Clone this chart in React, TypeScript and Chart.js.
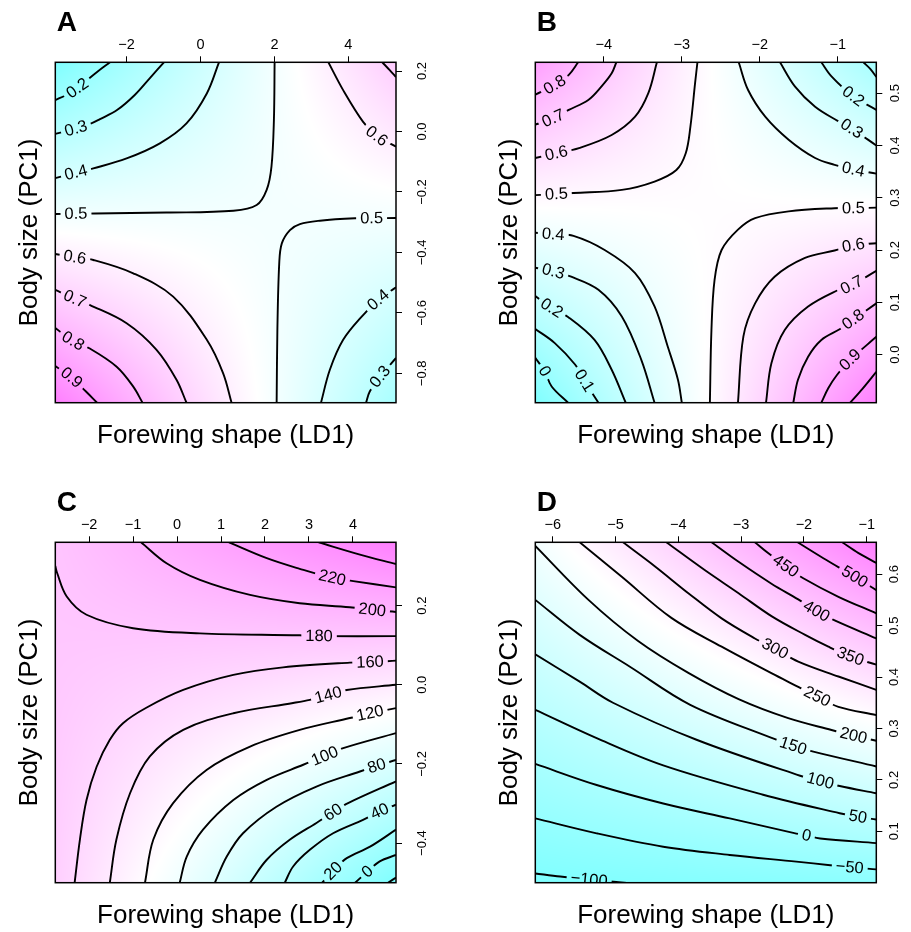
import React, { useEffect, useRef } from 'react';
import { Chart, registerables } from 'chart.js';

Chart.register(...registerables);

const FONT = '"Liberation Sans", Arial, Helvetica, sans-serif';
const TOP_AXIS_H = 40;

type Pt = [number, number];
interface Contour { z: number; lab: number; pts: Pt[]; }

// ---------------- Panel A ----------------
const xTicksA = [-2, 0, 2, 4];
const yTicksA = [-0.8, -0.6, -0.4, -0.2, 0.0, 0.2];
const xLimA: Pt = [-3.93, 5.29];
const yLimA: Pt = [-0.897, 0.229];
// surface values at the corners: rows [top, bottom], cols [left, right]
const zGridA = [[0.10, 0.72], [0.98, 0.24]];
const contoursA: Contour[] = [
  { z: 0.2, lab: 3, pts: [[-2.45, 0.229], [-2.80, 0.197], [-3.05, 0.172], [-3.33, 0.143], [-3.65, 0.120], [-3.93, 0.104]] },
  { z: 0.3, lab: 6, pts: [[-0.99, 0.229], [-1.37, 0.177], [-1.78, 0.121], [-2.26, 0.071], [-2.72, 0.041], [-2.99, 0.025], [-3.37, 0.010], [-3.93, -0.008]] },
  { z: 0.4, lab: 6, pts: [[0.50, 0.229], [0.17, 0.126], [-0.38, 0.027], [-1.10, -0.039], [-2.00, -0.089], [-2.90, -0.122], [-3.37, -0.136], [-3.93, -0.154]] },
  { z: 0.5, lab: 8, pts: [[2.005, 0.229], [1.986, 0.038], [1.92, -0.116], [1.79, -0.193], [1.52, -0.243], [0.89, -0.262], [-0.92, -0.268], [-2.86, -0.271], [-3.37, -0.272], [-3.93, -0.273]] },
  { z: 0.5, lab: 1, pts: [[5.29, -0.286], [4.63, -0.287], [4.18, -0.287], [3.23, -0.295], [2.69, -0.306], [2.42, -0.326], [2.20, -0.370], [2.13, -0.436], [2.08, -0.656], [2.06, -0.897]] },
  { z: 0.6, lab: 3, pts: [[3.46, 0.229], [3.86, 0.137], [4.40, 0.032], [4.77, -0.015], [5.29, -0.050]] },
  { z: 0.7, lab: -1, pts: [[4.92, 0.229], [5.12, 0.203], [5.29, 0.180]] },
  { z: 0.6, lab: 1, pts: [[-3.93, -0.405], [-3.40, -0.416], [-2.90, -0.425], [-1.82, -0.469], [-0.74, -0.546], [0.17, -0.689], [0.61, -0.799], [0.84, -0.897]] },
  { z: 0.7, lab: 1, pts: [[-3.93, -0.524], [-3.40, -0.554], [-2.99, -0.574], [-2.00, -0.634], [-1.19, -0.722], [-0.65, -0.821], [-0.38, -0.897]] },
  { z: 0.8, lab: 1, pts: [[-3.93, -0.650], [-3.45, -0.693], [-3.01, -0.717], [-2.27, -0.778], [-1.82, -0.844], [-1.57, -0.897]] },
  { z: 0.9, lab: 1, pts: [[-3.93, -0.776], [-3.49, -0.814], [-3.10, -0.860], [-2.80, -0.897]] },
  { z: 0.4, lab: 4, pts: [[3.26, -0.897], [3.50, -0.788], [3.86, -0.689], [4.40, -0.607], [4.81, -0.557], [5.29, -0.515]] },
  { z: 0.3, lab: 2, pts: [[4.48, -0.897], [4.58, -0.860], [4.86, -0.811], [5.29, -0.749]] },
];

// ---------------- Panel B ----------------
const xTicksB = [-4, -3, -2, -1];
const yTicksB = [0.0, 0.1, 0.2, 0.3, 0.4, 0.5];
const xLimB: Pt = [-4.88, -0.505];
const yLimB: Pt = [-0.092, 0.559];
const zGridB = [[0.92, 0.06], [-0.12, 1.07]];
const contoursB: Contour[] = [
  { z: 0.8, lab: 1, pts: [[-4.88, 0.497], [-4.63, 0.516], [-4.45, 0.535], [-4.33, 0.559]] },
  { z: 0.7, lab: 1, pts: [[-4.88, 0.440], [-4.65, 0.452], [-4.45, 0.468], [-4.20, 0.487], [-4.03, 0.513], [-3.90, 0.538], [-3.84, 0.559]] },
  { z: 0.6, lab: 1, pts: [[-4.88, 0.376], [-4.61, 0.385], [-4.32, 0.395], [-3.90, 0.420], [-3.60, 0.455], [-3.43, 0.500], [-3.32, 0.559]] },
  { z: 0.5, lab: 1, pts: [[-4.88, 0.305], [-4.61, 0.307], [-4.39, 0.309], [-3.77, 0.315], [-3.35, 0.331], [-3.07, 0.353], [-2.95, 0.385], [-2.89, 0.436], [-2.83, 0.519], [-2.80, 0.559]] },
  { z: 0.4, lab: 6, pts: [[-2.27, 0.559], [-2.15, 0.506], [-1.93, 0.455], [-1.63, 0.411], [-1.29, 0.376], [-1.04, 0.363], [-0.80, 0.354], [-0.505, 0.346]] },
  { z: 0.3, lab: 4, pts: [[-1.74, 0.559], [-1.55, 0.513], [-1.29, 0.474], [-0.99, 0.446], [-0.82, 0.432], [-0.505, 0.400]] },
  { z: 0.2, lab: 2, pts: [[-1.21, 0.559], [-1.08, 0.532], [-0.80, 0.494], [-0.505, 0.468]] },
  { z: 0.1, lab: -1, pts: [[-0.67, 0.559], [-0.58, 0.546], [-0.505, 0.531]] },
  { z: 0.5, lab: 1, pts: [[-0.505, 0.281], [-0.80, 0.280], [-1.04, 0.280], [-1.63, 0.274], [-2.06, 0.261], [-2.28, 0.239], [-2.49, 0.200], [-2.58, 0.143], [-2.62, 0.047], [-2.64, -0.092]] },
  { z: 0.4, lab: 1, pts: [[-4.88, 0.233], [-4.65, 0.230], [-4.39, 0.227], [-3.99, 0.200], [-3.60, 0.156], [-3.35, 0.092], [-3.18, 0.015], [-3.05, -0.048], [-3.00, -0.092]] },
  { z: 0.3, lab: 1, pts: [[-4.88, 0.166], [-4.65, 0.159], [-4.42, 0.149], [-4.07, 0.124], [-3.77, 0.073], [-3.52, -0.010], [-3.35, -0.092]] },
  { z: 0.2, lab: 1, pts: [[-4.88, 0.112], [-4.67, 0.089], [-4.46, 0.072], [-4.12, 0.028], [-3.90, -0.029], [-3.72, -0.092]] },
  { z: 0.1, lab: 3, pts: [[-4.88, 0.049], [-4.63, 0.022], [-4.37, -0.019], [-4.25, -0.050], [-4.07, -0.092]] },
  { z: 0.0, lab: 1, pts: [[-4.88, -0.006], [-4.76, -0.032], [-4.67, -0.061], [-4.46, -0.092]] },
  { z: 0.6, lab: 1, pts: [[-0.505, 0.213], [-0.80, 0.209], [-1.04, 0.199], [-1.42, 0.185], [-1.81, 0.149], [-2.06, 0.098], [-2.21, 0.035], [-2.28, -0.092]] },
  { z: 0.7, lab: 1, pts: [[-0.505, 0.160], [-0.82, 0.133], [-0.99, 0.124], [-1.38, 0.092], [-1.68, 0.047], [-1.85, -0.016], [-1.92, -0.092]] },
  { z: 0.8, lab: 1, pts: [[-0.505, 0.098], [-0.80, 0.067], [-0.97, 0.049], [-1.21, 0.028], [-1.38, -0.004], [-1.51, -0.048], [-1.57, -0.092]] },
  { z: 0.9, lab: 1, pts: [[-0.505, 0.034], [-0.84, -0.010], [-1.01, -0.039], [-1.12, -0.064], [-1.21, -0.092]] },
  { z: 1.0, lab: -1, pts: [[-0.84, -0.092], [-0.68, -0.065], [-0.505, -0.033]] },
];

// ---------------- Panel C ----------------
const xTicksC = [-2, -1, 0, 1, 2, 3, 4];
const yTicksC = [-0.4, -0.2, 0.0, 0.2];
const xLimC: Pt = [-2.77, 4.98];
const yLimC: Pt = [-0.5, 0.36];
const zGridC = [[182, 258], [171, -23]];
const contoursC: Contour[] = [
  { z: 240, lab: -1, pts: [[3.22, 0.360], [4.16, 0.329], [4.98, 0.305]] },
  { z: 220, lab: 3, pts: [[1.18, 0.360], [2.04, 0.320], [2.79, 0.293], [3.53, 0.270], [4.01, 0.262], [4.98, 0.246]] },
  { z: 200, lab: 6, pts: [[-0.82, 0.360], [-0.24, 0.307], [0.52, 0.265], [1.66, 0.227], [2.79, 0.206], [3.93, 0.196], [4.44, 0.189], [4.98, 0.184]] },
  { z: 180, lab: 7, pts: [[-2.77, 0.300], [-2.73, 0.283], [-2.51, 0.223], [-2.06, 0.177], [-1.00, 0.143], [0.52, 0.130], [2.79, 0.125], [3.23, 0.123], [4.98, 0.123]] },
  { z: 160, lab: 1, pts: [[4.98, 0.061], [4.39, 0.057], [3.93, 0.056], [2.41, 0.044], [1.28, 0.025], [0.14, -0.013], [-0.70, -0.058], [-1.23, -0.097], [-1.53, -0.139], [-1.83, -0.207], [-2.06, -0.291], [-2.21, -0.391], [-2.33, -0.5]] },
  { z: 140, lab: 2, pts: [[4.98, 0.000], [3.86, -0.013], [3.44, -0.026], [3.02, -0.038], [2.64, -0.046], [1.28, -0.072], [0.14, -0.114], [-0.62, -0.181], [-1.07, -0.274], [-1.38, -0.391], [-1.53, -0.5]] },
  { z: 120, lab: 1, pts: [[4.98, -0.059], [4.39, -0.072], [3.93, -0.084], [2.79, -0.114], [1.66, -0.156], [0.67, -0.215], [-0.09, -0.299], [-0.54, -0.391], [-0.73, -0.5]] },
  { z: 100, lab: 2, pts: [[4.98, -0.122], [3.78, -0.160], [3.36, -0.180], [2.87, -0.202], [2.04, -0.240], [1.28, -0.291], [0.59, -0.366], [0.22, -0.434], [0.06, -0.5]] },
  { z: 80, lab: 1, pts: [[4.98, -0.190], [4.54, -0.205], [4.16, -0.219], [3.17, -0.257], [2.26, -0.308], [1.50, -0.375], [1.13, -0.434], [0.86, -0.5]] },
  { z: 60, lab: 2, pts: [[4.98, -0.244], [3.89, -0.299], [3.55, -0.322], [3.17, -0.349], [2.57, -0.391], [2.04, -0.442], [1.66, -0.5]] },
  { z: 40, lab: 1, pts: [[4.98, -0.303], [4.61, -0.320], [4.23, -0.341], [3.55, -0.375], [3.02, -0.417], [2.64, -0.459], [2.45, -0.5]] },
  { z: 20, lab: 1, pts: [[3.30, -0.5], [3.55, -0.470], [3.86, -0.438], [4.39, -0.409], [4.98, -0.366]] },
  { z: 0, lab: 1, pts: [[4.05, -0.5], [4.33, -0.472], [4.61, -0.446], [4.98, -0.430]] },
  { z: -20, lab: -1, pts: [[4.80, -0.5], [4.98, -0.487]] },
];

// ---------------- Panel D ----------------
const xTicksD = [-6, -5, -4, -3, -2, -1];
const yTicksD = [0.1, 0.2, 0.3, 0.4, 0.5, 0.6];
const xLimD: Pt = [-6.277, -0.847];
const yLimD: Pt = [0.0, 0.662];
const zGridD = [[205, 587], [-113, -77]];
const contoursD: Contour[] = [
  { z: 550, lab: -1, pts: [[-1.39, 0.662], [-1.13, 0.641], [-0.847, 0.622]] },
  { z: 500, lab: 2, pts: [[-2.10, 0.662], [-1.69, 0.631], [-1.19, 0.595], [-0.847, 0.569]] },
  { z: 450, lab: 2, pts: [[-2.78, 0.662], [-2.57, 0.641], [-2.29, 0.616], [-2.01, 0.592], [-1.45, 0.556], [-0.847, 0.524]] },
  { z: 400, lab: 4, pts: [[-3.47, 0.662], [-3.04, 0.624], [-2.51, 0.581], [-2.09, 0.551], [-1.80, 0.528], [-1.51, 0.510], [-0.847, 0.475]] },
  { z: 350, lab: 6, pts: [[-4.19, 0.662], [-3.58, 0.608], [-3.04, 0.563], [-2.51, 0.518], [-1.98, 0.482], [-1.61, 0.459], [-1.26, 0.440], [-0.847, 0.424]] },
  { z: 300, lab: 5, pts: [[-4.88, 0.662], [-4.37, 0.615], [-3.84, 0.563], [-3.31, 0.514], [-2.78, 0.475], [-2.46, 0.455], [-2.09, 0.430], [-1.45, 0.401], [-0.847, 0.375]] },
  { z: 250, lab: 6, pts: [[-5.57, 0.662], [-4.90, 0.595], [-4.11, 0.515], [-3.31, 0.459], [-2.51, 0.407], [-2.09, 0.381], [-1.79, 0.362], [-1.45, 0.342], [-0.847, 0.326]] },
  { z: 200, lab: 7, pts: [[-6.277, 0.655], [-5.43, 0.550], [-4.64, 0.470], [-3.84, 0.408], [-3.04, 0.357], [-2.25, 0.320], [-1.56, 0.297], [-1.21, 0.286], [-0.847, 0.276]] },
  { z: 150, lab: 5, pts: [[-6.277, 0.550], [-5.57, 0.482], [-4.77, 0.420], [-3.81, 0.346], [-2.46, 0.279], [-2.17, 0.266], [-1.85, 0.255], [-0.847, 0.226]] },
  { z: 100, lab: 5, pts: [[-6.277, 0.444], [-5.57, 0.391], [-5.04, 0.350], [-3.71, 0.278], [-2.06, 0.208], [-1.74, 0.198], [-1.43, 0.188], [-0.847, 0.174]] },
  { z: 50, lab: 5, pts: [[-6.277, 0.336], [-5.30, 0.281], [-4.24, 0.228], [-2.65, 0.171], [-1.43, 0.135], [-1.14, 0.128], [-0.847, 0.123]] },
  { z: 0, lab: 5, pts: [[-6.277, 0.231], [-5.30, 0.190], [-4.24, 0.154], [-3.18, 0.125], [-2.17, 0.097], [-1.96, 0.092], [-1.74, 0.086], [-0.847, 0.077]] },
  { z: -50, lab: 6, pts: [[-6.277, 0.125], [-5.30, 0.096], [-4.24, 0.070], [-3.18, 0.054], [-2.12, 0.041], [-1.58, 0.034], [-1.27, 0.030], [-0.847, 0.026]] },
  { z: -100, lab: 2, pts: [[-6.277, 0.018], [-5.88, 0.012], [-5.42, 0.006], [-4.95, 0.001], [-4.60, -0.003]] },
];

// ---------------- layout ----------------
interface PanelSpec {
  letter: string;
  xLim: Pt; yLim: Pt;
  xTicks: number[]; yTicks: number[];
  zGrid: number[][];
  contours: Contour[];
  box: { left: number; top: number; width: number; height: number };
  pad: { left: number; top: number; right: number; bottom: number };
  yLabOff: number;
}

const panels: PanelSpec[] = [
  { letter: 'A', xLim: xLimA, yLim: yLimA, xTicks: xTicksA, yTicks: yTicksA, zGrid: zGridA, contours: contoursA,
    box: { left: 0, top: 0, width: 455, height: 466 }, pad: { left: 55.3, top: 62.3 - TOP_AXIS_H, right: 59, bottom: 63.3 }, yLabOff: 26 },
  { letter: 'B', xLim: xLimB, yLim: yLimB, xTicks: xTicksB, yTicks: yTicksB, zGrid: zGridB, contours: contoursB,
    box: { left: 455, top: 0, width: 456, height: 466 }, pad: { left: 80.3, top: 62.3 - TOP_AXIS_H, right: 34.7, bottom: 63.3 }, yLabOff: 19.5 },
  { letter: 'C', xLim: xLimC, yLim: yLimC, xTicks: xTicksC, yTicks: yTicksC, zGrid: zGridC, contours: contoursC,
    box: { left: 0, top: 466, width: 455, height: 466 }, pad: { left: 55.3, top: 76.3 - TOP_AXIS_H, right: 59, bottom: 49.3 }, yLabOff: 26 },
  { letter: 'D', xLim: xLimD, yLim: yLimD, xTicks: xTicksD, yTicks: yTicksD, zGrid: zGridD, contours: contoursD,
    box: { left: 455, top: 466, width: 456, height: 466 }, pad: { left: 80.3, top: 76.3 - TOP_AXIS_H, right: 34.7, bottom: 49.3 }, yLabOff: 18.5 },
];

function fmtMinus(s: string): string { return s.replace('-', '\u2212'); }
function fmtZ(z: number): string { return fmtMinus(String(Math.round(z * 1000) / 1000)); }

// R's cm.colors: cyan (#80FFFF) -> white -> magenta (#FF80FF)
function cm(t: number): [number, number, number] {
  const tt = Math.max(0, Math.min(1, t));
  if (tt < 0.5) return [Math.round(255 * (0.5 + tt)), 255, 255];
  return [255, Math.round(255 * (1.5 - tt)), 255];
}

function makeDeco(spec: PanelSpec) {
  let bg: { c: HTMLCanvasElement; x: number; y: number } | null = null;
  return {
    id: 'deco' + spec.letter,
    beforeDatasetsDraw(chart: any) {
      const { ctx, chartArea: ca, scales } = chart;
      const xs = scales.x, ys = scales.y;
      const x0 = Math.floor(ca.left), y0 = Math.floor(ca.top);
      const w = Math.ceil(ca.right) - x0, h = Math.ceil(ca.bottom) - y0;
      const c = document.createElement('canvas');
      c.width = w; c.height = h;
      const octx = c.getContext('2d')!;
      const img = octx.createImageData(w, h);
      const g = spec.zGrid;
      const all = [g[0][0], g[0][1], g[1][0], g[1][1]];
      const zmin = Math.min(...all), zmax = Math.max(...all);
      const [xa, xb] = spec.xLim;
      const [ya, yb] = spec.yLim;
      const us: number[] = [];
      for (let i = 0; i < w; i++) us.push((xs.getValueForPixel(x0 + i + 0.5) - xa) / (xb - xa));
      for (let j = 0; j < h; j++) {
        const v = (ys.getValueForPixel(y0 + j + 0.5) - ya) / (yb - ya);
        for (let i = 0; i < w; i++) {
          const u = us[i];
          const top = g[0][0] * (1 - u) + g[0][1] * u;
          const bot = g[1][0] * (1 - u) + g[1][1] * u;
          const z = bot * (1 - v) + top * v;
          const [r, gg, b] = cm((z - zmin) / (zmax - zmin));
          const k = (j * w + i) * 4;
          img.data[k] = r; img.data[k + 1] = gg; img.data[k + 2] = b; img.data[k + 3] = 255;
        }
      }
      octx.putImageData(img, 0, 0);
      bg = { c, x: x0, y: y0 };
      ctx.save();
      ctx.beginPath();
      ctx.rect(ca.left, ca.top, ca.right - ca.left, ca.bottom - ca.top);
      ctx.clip();
      ctx.drawImage(c, x0, y0);
      ctx.restore();
    },
    afterDatasetsDraw(chart: any) {
      const { ctx, chartArea: ca, scales } = chart;
      const xs = scales.x, ys = scales.y;
      const P = (p: Pt) => [xs.getPixelForValue(p[0]), ys.getPixelForValue(p[1])];
      ctx.save();
      ctx.beginPath();
      ctx.rect(ca.left, ca.top, ca.right - ca.left, ca.bottom - ca.top);
      ctx.clip();
      ctx.font = `16.5px ${FONT}`;
      for (const c of spec.contours) {
        if (c.lab < 0) continue;
        const [px, py] = P(c.pts[c.lab]);
        const [ax, ay] = P(c.pts[Math.max(0, c.lab - 1)]);
        const [bx, by] = P(c.pts[Math.min(c.pts.length - 1, c.lab + 1)]);
        let ang = Math.atan2(by - ay, bx - ax);
        if (ang > Math.PI / 2) ang -= Math.PI;
        else if (ang < -Math.PI / 2) ang += Math.PI;
        const text = fmtZ(c.z);
        const tw = ctx.measureText(text).width;
        const base = ctx.getTransform();
        ctx.save();
        ctx.translate(px, py);
        ctx.rotate(ang);
        ctx.beginPath();
        ctx.rect(-tw / 2 - 4, -8.5, tw + 8, 17);
        ctx.setTransform(base);
        ctx.clip();
        if (bg) ctx.drawImage(bg.c, bg.x, bg.y);
        ctx.restore();
        ctx.save();
        ctx.translate(px, py);
        ctx.rotate(ang);
        ctx.fillStyle = '#000';
        ctx.textAlign = 'center';
        ctx.textBaseline = 'middle';
        ctx.fillText(text, 0, 0.5);
        ctx.restore();
      }
      ctx.restore();
      ctx.save();
      ctx.strokeStyle = '#000';
      ctx.lineWidth = 1.5;
      ctx.strokeRect(ca.left, ca.top, ca.right - ca.left, ca.bottom - ca.top);
      ctx.restore();
    },
    afterDraw(chart: any) {
      const { ctx, chartArea: ca, scales } = chart;
      const ys = scales.y;
      ctx.save();
      ctx.fillStyle = '#000';
      ctx.font = `13px ${FONT}`;
      ctx.textAlign = 'center';
      ctx.textBaseline = 'middle';
      for (const v of spec.yTicks) {
        const y = ys.getPixelForValue(v);
        ctx.save();
        ctx.translate(ca.right + spec.yLabOff, y);
        ctx.rotate(-Math.PI / 2);
        ctx.fillText(fmtMinus(v.toFixed(1)), 0, 0);
        ctx.restore();
      }
      ctx.font = `26px ${FONT}`;
      ctx.textBaseline = 'alphabetic';
      ctx.fillText('Forewing shape (LD1)', (ca.left + ca.right) / 2, ca.bottom + 40.5);
      ctx.save();
      ctx.translate(ca.left - 18, (ca.top + ca.bottom) / 2);
      ctx.rotate(-Math.PI / 2);
      ctx.fillText('Body size (PC1)', 0, 0);
      ctx.restore();
      ctx.font = `bold 28px ${FONT}`;
      ctx.textAlign = 'left';
      ctx.fillText(spec.letter, ca.left + 1.5, ca.top - 31);
      ctx.restore();
    },
  };
}

function buildConfig(spec: PanelSpec): any {
  const gridOpts = {
    display: true, drawOnChartArea: false, drawTicks: true, tickLength: 6,
    tickColor: '#000', tickWidth: 1, color: '#000', lineWidth: 1,
  };
  return {
    type: 'scatter',
    data: {
      datasets: spec.contours.map((c) => ({
        data: c.pts.map((p) => ({ x: p[0], y: p[1] })),
        showLine: true,
        borderColor: '#000',
        borderWidth: 1.9,
        pointRadius: 0,
        pointHoverRadius: 0,
        tension: 0.35,
        fill: false,
      })),
    },
    options: {
      animation: false,
      responsive: false,
      devicePixelRatio: 1,
      events: [],
      layout: { padding: spec.pad },
      plugins: { legend: { display: false }, tooltip: { enabled: false }, title: { display: false } },
      scales: {
        x: {
          type: 'linear', position: 'top', min: spec.xLim[0], max: spec.xLim[1],
          afterBuildTicks: (s: any) => { s.ticks = spec.xTicks.map((v) => ({ value: v })); },
          afterFit: (s: any) => { s.height = TOP_AXIS_H; },
          grid: gridOpts,
          border: { display: false },
          ticks: {
            display: true, autoSkip: false, maxRotation: 0, minRotation: 0, padding: 3,
            color: '#000', font: { family: FONT, size: 14.5 },
            callback: (v: number) => fmtMinus(String(v)),
          },
        },
        y: {
          type: 'linear', position: 'right', min: spec.yLim[0], max: spec.yLim[1],
          afterBuildTicks: (s: any) => { s.ticks = spec.yTicks.map((v) => ({ value: v })); },
          afterFit: (s: any) => { s.width = 0; },
          grid: gridOpts,
          border: { display: false },
          ticks: { display: false },
        },
      },
    },
    plugins: [makeDeco(spec)],
  };
}

function Panel({ spec }: { spec: PanelSpec }) {
  const ref = useRef<HTMLCanvasElement>(null);
  useEffect(() => {
    const chart = new Chart(ref.current as HTMLCanvasElement, buildConfig(spec));
    return () => chart.destroy();
  }, [spec]);
  return (
    <canvas
      ref={ref}
      width={spec.box.width}
      height={spec.box.height}
      style={{ position: 'absolute', left: spec.box.left, top: spec.box.top }}
    />
  );
}

export default function App() {
  return (
    <div style={{ position: 'absolute', left: 0, top: 0, width: 911, height: 932, background: '#fff', overflow: 'hidden' }}>
      {panels.map((p) => <Panel key={p.letter} spec={p} />)}
    </div>
  );
}
